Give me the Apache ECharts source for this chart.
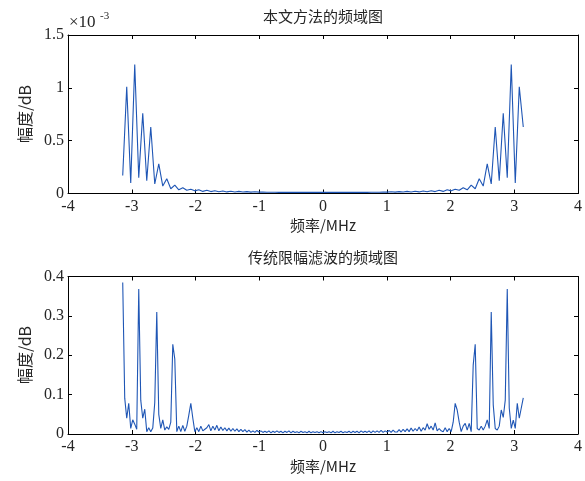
<!DOCTYPE html>
<html>
<head>
<meta charset="utf-8">
<script src="https://cdn.jsdelivr.net/npm/echarts@6/dist/echarts.min.js"></script>
<style>html,body{margin:0;padding:0;background:#fff;}#c{width:585px;height:481px;}</style>
</head>
<body>
<div id="c"></div>
<script>
// Top chart magnitudes (units of 1e-3), sampled from -pi to pi
var topValues = [
  0.17, 1.01, 0.10, 1.22, 0.15, 0.76, 0.12, 0.63, 0.09, 0.28, 0.07, 0.14, 0.045, 0.08, 0.035, 0.055, 0.03, 0.04, 0.025, 0.035, 0.02, 0.03,
  0.018, 0.026, 0.016, 0.024, 0.015, 0.022, 0.014, 0.02, 0.014, 0.018, 0.013, 0.017, 0.013,
  0.013, 0.012, 0.012, 0.012, 0.011, 0.012, 0.011, 0.011, 0.011, 0.011, 0.011, 0.011, 0.011, 0.011, 0.011, 0.011,
  0.011, 0.011, 0.011, 0.011, 0.011, 0.011, 0.011, 0.011, 0.011, 0.012, 0.011, 0.012, 0.012, 0.012, 0.013,
  0.013, 0.017, 0.013, 0.018, 0.014, 0.02, 0.014, 0.022, 0.015, 0.024, 0.016, 0.026, 0.018,
  0.03, 0.02, 0.035, 0.025, 0.04, 0.03, 0.055, 0.035, 0.08, 0.045, 0.14, 0.07, 0.28, 0.09, 0.63, 0.12, 0.76, 0.15, 1.22, 0.10, 1.01, 0.63
];
// Bottom chart magnitudes, sampled from -pi to pi
var bottomValues = [
  0.385, 0.091, 0.040, 0.078, 0.014, 0.036, 0.025, 0.012, 0.368, 0.086, 0.040, 0.063, 0.006, 0.016, 0.006, 0.015, 0.08, 0.31, 0.05, 0.014,
  0.036, 0.010, 0.018, 0.012, 0.03, 0.228, 0.19, 0.006, 0.02, 0.006, 0.022, 0.007, 0.02, 0.048, 0.078, 0.04, 0.006, 0.016, 0.006, 0.02,
  0.008, 0.012, 0.016,
  0.024, 0.008, 0.02, 0.01, 0.022, 0.008, 0.018, 0.009, 0.016, 0.008, 0.015, 0.007, 0.014, 0.007, 0.013, 0.006, 0.012, 0.006, 0.011, 0.005, 0.01,
  0.004,0.008,0.004,0.009,0.005,0.008,0.004,0.007,0.004,0.008,
  0.003,0.007,0.004,0.008,0.004,0.007,0.003,0.007,0.004,0.008,
  0.003,0.007,0.004,0.006,0.003,0.007,0.004,0.006,0.003,0.007,
  0.003,0.006,0.004,0.006,0.003,0.006,0.003,0.006,0.004,0.006,
  0.003,0.007,0.003,0.006,0.004,0.007,0.003,0.006,0.004,0.007,
  0.003,0.007,0.004,0.007,0.003,0.008,0.004,0.007,0.004,0.008,
  0.003,0.008,0.004,0.008,0.004,0.009,0.004,0.008,0.005,0.009,
  0.004,0.010,0.005,
  0.005, 0.011, 0.005, 0.012, 0.006, 0.013, 0.006, 0.015, 0.007, 0.014, 0.008, 0.018, 0.007, 0.016, 0.01, 0.026, 0.012, 0.02, 0.01, 0.028, 0.008,
  0.014, 0.008, 0.006, 0.016, 0.006, 0.014, 0.006, 0.03, 0.078, 0.061, 0.03, 0.006, 0.02, 0.027, 0.01, 0.027, 0.006, 0.175, 0.228, 0.014,
  0.01, 0.02, 0.01, 0.02, 0.036, 0.014, 0.31, 0.074, 0.014, 0.01, 0.02, 0.061, 0.042, 0.086, 0.368, 0.066, 0.014, 0.035, 0.014, 0.078,
  0.04, 0.066, 0.092
];
var xTicks = [-4, -3, -2, -1, 0, 1, 2, 3, 4];
var topYTicks = [0, 0.5, 1, 1.5];
var bottomYTicks = [0, 0.1, 0.2, 0.3, 0.4];
var titles = ['本文方法的频域图', '传统限幅滤波的频域图'];
var xName = '频率/MHz';
var yName = '幅度/dB';

function withFreq(vals) {
  var n = vals.length;
  return vals.map(function (v, i) { return [-Math.PI + i * 2 * Math.PI / (n - 1), v]; });
}

var serif = '"Liberation Serif", "Times New Roman", serif';
var cjk = '"Noto Sans CJK SC", "Liberation Serif", serif';
var txt = '#262626';
var lineCol = '#1f56b5';

var grids = [
  { left: 68, top: 35, width: 510, height: 158.5 },
  { left: 68, top: 276.5, width: 510, height: 157.5 }
];

function xAxes(gi) {
  var base = {
    gridIndex: gi, type: 'value', min: xTicks[0], max: xTicks[xTicks.length - 1], interval: 1,
    axisLine: { show: true, onZero: false, lineStyle: { color: '#000', width: 1 } },
    axisTick: { show: true, inside: true, length: 4, lineStyle: { color: '#000' } },
    splitLine: { show: false }
  };
  return [
    Object.assign({}, base, { position: 'bottom',
      axisLabel: { show: true, margin: 5, color: txt, fontFamily: serif, fontSize: 16 } }),
    Object.assign({}, base, { position: 'top', axisLabel: { show: false } })
  ];
}
function yAxes(gi, ticks) {
  var base = {
    gridIndex: gi, type: 'value', min: ticks[0], max: ticks[ticks.length - 1], interval: ticks[1] - ticks[0],
    axisLine: { show: true, onZero: false, lineStyle: { color: '#000', width: 1 } },
    axisTick: { show: true, inside: true, length: 4, lineStyle: { color: '#000' } },
    splitLine: { show: false }
  };
  return [
    Object.assign({}, base, { position: 'left',
      axisLabel: { show: true, margin: 4, color: txt, fontFamily: serif, fontSize: 16,
        formatter: function (v) { return String(Math.round(v * 10) / 10); } } }),
    Object.assign({}, base, { position: 'right', axisLabel: { show: false } })
  ];
}

var option = {
  animation: false,
  backgroundColor: '#fff',
  grid: grids,
  xAxis: xAxes(0).concat(xAxes(1)),
  yAxis: yAxes(0, topYTicks).concat(yAxes(1, bottomYTicks)),
  series: [
    { type: 'line', xAxisIndex: 0, yAxisIndex: 0, data: withFreq(topValues), showSymbol: false,
      lineStyle: { color: lineCol, width: 1.1 }, itemStyle: { color: lineCol } },
    { type: 'line', xAxisIndex: 2, yAxisIndex: 2, data: withFreq(bottomValues), showSymbol: false,
      lineStyle: { color: lineCol, width: 1.1 }, itemStyle: { color: lineCol } }
  ],
  graphic: [
    { type: 'text', x: 323, y: 16, style: { text: titles[0], font: '15px ' + cjk, fill: txt, textAlign: 'center', textVerticalAlign: 'middle' } },
    { type: 'text', x: 323, y: 257, style: { text: titles[1], font: '15px ' + cjk, fill: txt, textAlign: 'center', textVerticalAlign: 'middle' } },
    { type: 'text', x: 323, y: 225, style: { text: xName, font: '15px ' + cjk, fill: txt, textAlign: 'center', textVerticalAlign: 'middle' } },
    { type: 'text', x: 323, y: 466, style: { text: xName, font: '15px ' + cjk, fill: txt, textAlign: 'center', textVerticalAlign: 'middle' } },
    { type: 'text', x: 25, y: 114, rotation: Math.PI / 2, style: { text: yName, font: '16px ' + cjk, fill: txt, textAlign: 'center', textVerticalAlign: 'middle' } },
    { type: 'text', x: 25, y: 355, rotation: Math.PI / 2, style: { text: yName, font: '16px ' + cjk, fill: txt, textAlign: 'center', textVerticalAlign: 'middle' } },
    { type: 'text', x: 69, y: 23, style: { text: '×10', font: '17px ' + serif, fill: txt, textAlign: 'left', textVerticalAlign: 'middle' } },
    { type: 'text', x: 100, y: 16, style: { text: '-3', font: '11px ' + serif, fill: txt, textAlign: 'left', textVerticalAlign: 'middle' } }
  ]
};

var chart = echarts.init(document.getElementById('c'), null, { renderer: 'canvas' });
chart.setOption(option);
</script>
</body>
</html>
